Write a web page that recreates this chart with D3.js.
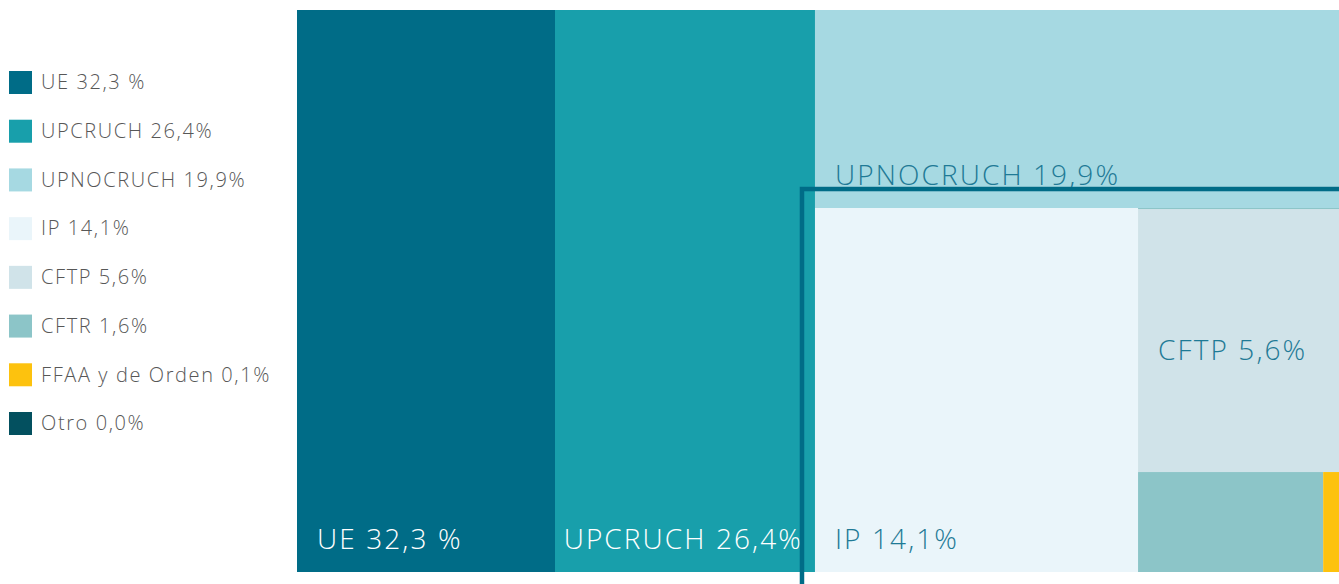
<!DOCTYPE html>
<html>
<head>
<meta charset="utf-8">
<script src="https://cdn.jsdelivr.net/npm/d3@7"></script>
<style>
  body { margin: 0; background: #fff; }
  svg { display: block; font-family: "Open Sans", sans-serif; }
</style>
</head>
<body>
<script>
(function () {
    // categories and the label text shown for each
    var names = ['UE', 'UPCRUCH', 'UPNOCRUCH', 'IP', 'CFTP', 'CFTR', 'FFAA y de Orden', 'Otro'],
        shares = ['32,3 %', '26,4%', '19,9%', '14,1%', '5,6%', '1,6%', '0,1%', '0,0%'],
        // area weights of each tile
        areas = [24.76, 24.95, 17.72, 20.08, 9.06, 3.16, 0.27, 0],
        colors = ['#006c87', '#189fab', '#a6d9e2', '#eaf5fa', '#d0e3e9', '#8cc5c8', '#fdc20e', '#03505f'],
        labelColors = ['#ffffff', '#ffffff', '#1f7a96', '#1f7a96', '#1f7a96', '#1f7a96', '#1f7a96', '#ffffff'];

    var width = 1339,
        height = 584,
        chart = { x: 297, y: 10, w: 1042, h: 562 };

    var svg = d3.select('body').append('svg')
        .attr('width', width)
        .attr('height', height);

    // legend
    var legendY = d3.scaleLinear().domain([0, names.length - 1]).range([82.5, 423.5]);

    var legend = svg.append('g').selectAll('g')
        .data(names)
        .enter().append('g')
        .attr('transform', function (d, i) { return 'translate(9,' + legendY(i) + ')'; });

    legend.append('rect')
        .attr('y', -11.5)
        .attr('width', 23)
        .attr('height', 23)
        .attr('fill', function (d, i) { return colors[i]; });

    legend.append('text')
        .attr('x', 32)
        .attr('dy', '0.34em')
        .attr('fill', '#575757')
        .style('font-size', '20px')
        .style('font-weight', 300)
        .style('letter-spacing', '1.6px')
        .text(function (d, i) { return d + ' ' + shares[i]; });

    // nested layout: first two side by side, the rest split one by one
    var items = d3.range(names.length).filter(function (i) { return areas[i] > 0; });

    function leaf(k) {
        var i = items[k];
        return { name: names[i], idx: i, value: areas[i] };
    }

    function nest(k) {
        if (k === items.length - 2) {
            return [leaf(k), leaf(k + 1)];
        }
        return [leaf(k), { name: 'g' + k, children: nest(k + 1) }];
    }

    var root = d3.hierarchy({ name: 'root', children: [leaf(0), leaf(1), { name: 'g2', children: nest(2) }] })
        .sum(function (d) { return d.value || 0; });

    d3.treemap()
        .tile(d3.treemapSliceDice)
        .size([chart.w, chart.h])(root);

    var g = svg.append('g')
        .attr('transform', 'translate(' + chart.x + ',' + chart.y + ')');

    var leaves = root.leaves();

    g.selectAll('rect')
        .data(leaves)
        .enter().append('rect')
        .attr('x', function (d) { return d.x0; })
        .attr('y', function (d) { return d.y0; })
        .attr('width', function (d) { return d.x1 - d.x0; })
        .attr('height', function (d) { return d.y1 - d.y0; })
        .attr('fill', function (d) { return colors[d.data.idx]; });

    // thin edge between UPNOCRUCH and CFTP
    var upno = leaves[2], cftp = leaves[4];
    g.append('line')
        .attr('x1', cftp.x0)
        .attr('x2', cftp.x1)
        .attr('y1', upno.y1 + 0.5)
        .attr('y2', upno.y1 + 0.5)
        .attr('stroke', '#8cc5c8')
        .attr('stroke-width', 1);

    g.selectAll('text.cell')
        .data(leaves.filter(function (d) { return (d.x1 - d.x0) > 100 && (d.y1 - d.y0) > 150; }))
        .enter().append('text')
        .attr('class', 'cell')
        .attr('y', function (d) {
            if (d.data.name === 'CFTP') {
                return (d.y0 + d.y1) / 2 + 20;
            }
            return d.y1 - 23;
        })
        .attr('fill', function (d) { return labelColors[d.data.idx]; })
        .style('font-size', '28px')
        .style('font-weight', 300)
        .style('letter-spacing', '2.1px')
        .text(function (d) { return d.data.name + ' ' + shares[d.data.idx]; })
        .attr('x', function (d) {
            var w = this.getComputedTextLength();
            return Math.min(d.x0 + 20, d.x1 - w - 12);
        });

    // highlight outline around the lower-right group
    var grp = root.children[2].children[1];
    g.append('rect')
        .attr('x', grp.x0 - 13)
        .attr('y', grp.y0 - 19)
        .attr('width', grp.x1 - grp.x0 + 40)
        .attr('height', grp.y1 - grp.y0 + 60)
        .attr('fill', 'none')
        .attr('stroke', '#006c87')
        .attr('stroke-width', 4.5);
}());
</script>
</body>
</html>
